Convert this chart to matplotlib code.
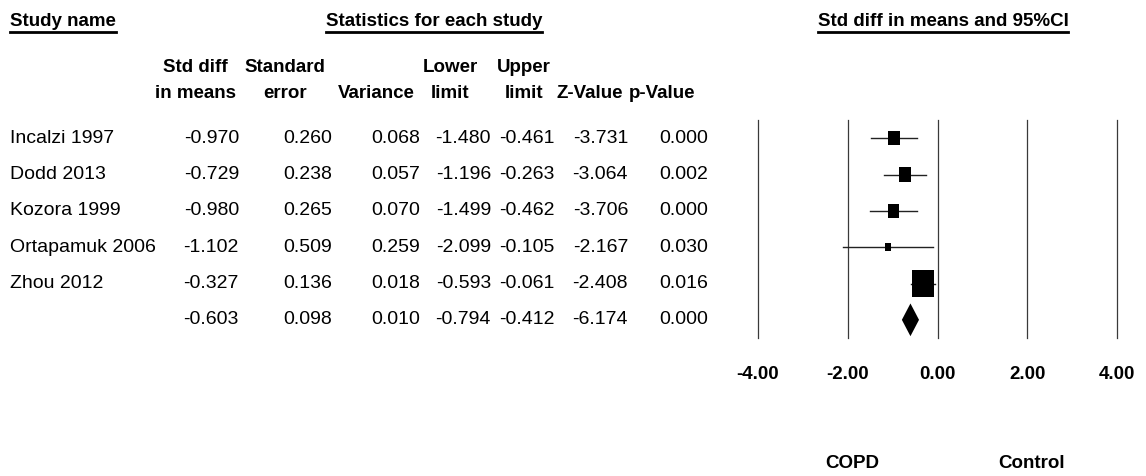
import matplotlib
matplotlib.use("Agg")
import matplotlib.pyplot as plt
from matplotlib import font_manager, transforms
import numpy as np

# ---- data -------------------------------------------------------------
studies = ["Incalzi 1997", "Dodd 2013", "Kozora 1999", "Ortapamuk 2006", "Zhou 2012", ""]
smd = [-0.970, -0.729, -0.980, -1.102, -0.327, -0.603]
std_err = [0.260, 0.238, 0.265, 0.509, 0.136, 0.098]
variance = [0.068, 0.057, 0.070, 0.259, 0.018, 0.010]
lower = [-1.480, -1.196, -1.499, -2.099, -0.593, -0.794]
upper = [-0.461, -0.263, -0.462, -0.105, -0.061, -0.412]
z_value = [-3.731, -3.064, -3.706, -2.167, -2.408, -6.174]
p_value = [0.000, 0.002, 0.000, 0.030, 0.016, 0.000]
x_ticks = [-4.0, -2.0, 0.0, 2.0, 4.0]
favours = ["COPD", "Control"]

# ---- fonts ------------------------------------------------------------
plt.rcParams["font.family"] = ["Liberation Sans", "DejaVu Sans"]
FS = 14      # body text
FS_H = 13.5  # bold headers

W, H = 1146, 476
fig = plt.figure(figsize=(W / 100, H / 100), dpi=100)

# forest axes: x from -4 to 4, one row per study plus the summary row
ax_left, ax_right = 758 / W, 1117 / W
ax_top, ax_bot = 120 / H, 338 / H
ax = fig.add_axes([ax_left, 1 - ax_bot, ax_right - ax_left, ax_bot - ax_top])
n = len(studies)
ax.set_xlim(-4, 4)
ax.set_ylim(n - 0.5, -0.5)
for s in ax.spines.values():
    s.set_visible(False)
ax.set_yticks([])
ax.set_xticks(x_ticks)
ax.set_xticklabels([f"{t:.2f}" for t in x_ticks], fontsize=FS_H, fontweight="bold")
ax.tick_params(axis="x", length=0, pad=20)
for t in x_ticks:
    ax.axvline(t, color="#3a3a3a", lw=0.9, zorder=1, clip_on=False)

rows = np.arange(n)
weights = 1.0 / np.square(np.array(std_err))
# study rows: CI whiskers and weighted boxes
for i in range(n - 1):
    ax.plot([lower[i], upper[i]], [i, i], color="#222222", lw=1.0, zorder=2)
box = [(-0.39, -0.5), (0.39, -0.5), (0.39, 0.5), (-0.39, 0.5)]
ax.scatter(smd[:-1], rows[:-1], s=7.3 * weights[:-1], marker=box,
           color="black", linewidths=0, zorder=3)
# pooled estimate as a diamond
k = n - 1
ax.fill([lower[k], smd[k], upper[k], smd[k]], [k, k - 0.45, k, k + 0.45],
        color="black", lw=0, zorder=3, clip_on=False)

# favours labels
trans_lbl = transforms.blended_transform_factory(ax.transData, fig.transFigure)
ax.text(-1.9, 1 - 464 / H, favours[0], transform=trans_lbl, ha="center",
        va="center", fontsize=FS_H, fontweight="bold")
ax.text(2.1, 1 - 464 / H, favours[1], transform=trans_lbl, ha="center",
        va="center", fontsize=FS_H, fontweight="bold")

# ---- table text -------------------------------------------------------
row_tr = transforms.blended_transform_factory(fig.transFigure, ax.transData)


def fx(px):
    return px / W


def fy(py):
    return 1 - py / H


for i, name in enumerate(studies):
    fig.text(fx(10), i, name, transform=row_tr, ha="left", va="center", fontsize=FS)

columns = [smd, std_err, variance, lower, upper, z_value, p_value]
right_edges = [239, 332, 420, 491, 555, 628, 708]
for col, xr in zip(columns, right_edges):
    for i, v in enumerate(col):
        fig.text(fx(xr), i, f"{v:.3f}", transform=row_tr, ha="right",
                 va="center", fontsize=FS)

head1 = ["Std diff", "Standard", "", "Lower", "Upper", "", ""]
head2 = ["in means", "error", "Variance", "limit", "limit", "Z-Value", "p-Value"]
head_cx = [195, 285, 376, 450, 524, 590, 662]
for a, b, cx in zip(head1, head2, head_cx):
    if a:
        fig.text(fx(cx), fy(67), a, ha="center", va="center", fontsize=FS_H,
                 fontweight="bold")
    fig.text(fx(cx), fy(94), b, ha="center", va="center", fontsize=FS_H,
             fontweight="bold")

# underlined section titles
titles = [("Study name", 10, "left"),
          ("Statistics for each study", 434, "center"),
          ("Std diff in means and 95%CI", 943, "center")]
title_objs = []
for txt, x, ha in titles:
    title_objs.append(fig.text(fx(x), fy(22), txt, ha=ha, va="center",
                               fontsize=FS_H, fontweight="bold"))

fig.canvas.draw()
renderer = fig.canvas.get_renderer()
for t in title_objs:
    bb = t.get_window_extent(renderer)
    y = (bb.y0 - 1.5) / H
    fig.add_artist(plt.Line2D([bb.x0 / W, bb.x1 / W], [y, y], color="black",
                              lw=2.0, transform=fig.transFigure))

fig.savefig("out.png", dpi=100, facecolor="white")
